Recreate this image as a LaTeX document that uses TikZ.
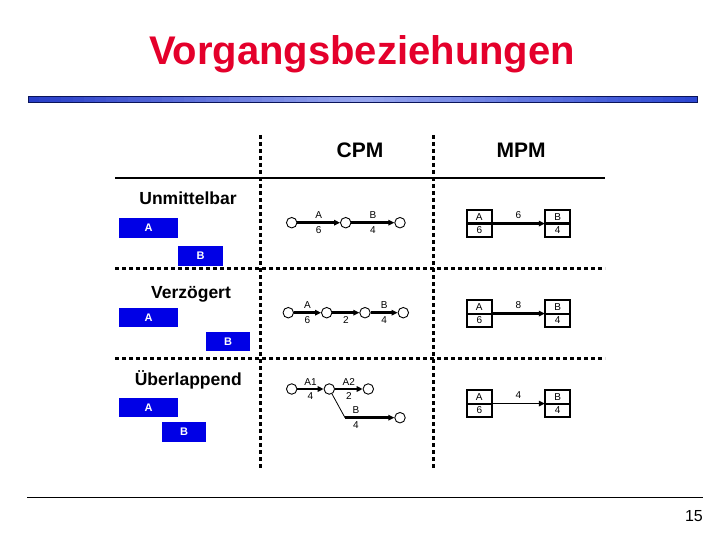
\documentclass[tikz,border=0pt]{standalone}
\usepackage{fontspec}
\setmainfont{Liberation Sans}
\usetikzlibrary{arrows.meta}
\definecolor{titlered}{RGB}{228,0,43}
\definecolor{boxblue}{RGB}{0,0,230}
\definecolor{barleft}{RGB}{40,62,200}
\definecolor{barmid}{RGB}{150,165,238}
\definecolor{barright}{RGB}{45,72,210}
\definecolor{barnavy}{RGB}{10,20,90}
\begin{document}
\begin{tikzpicture}[x=1pt,y=-1pt,
  dots/.style={line width=3pt, dash pattern=on 4pt off 3pt},
  bluebox/.style={fill=boxblue, text=white, font=\bfseries\fontsize{11}{11}\selectfont, minimum height=19.5pt, inner sep=0pt},
  rowlabel/.style={font=\bfseries\fontsize{17.5}{17.5}\selectfont, anchor=base},
  head/.style={font=\bfseries\fontsize{21}{21}\selectfont},
  ev/.style={circle, draw, line width=0.9pt, minimum size=10.5pt, inner sep=0pt},
  act/.style={-{Triangle[length=6pt,width=5.5pt]}, line width=2.6pt},
  thinact/.style={-{Triangle[length=6pt,width=5.5pt]}, line width=1.3pt},
  lbl/.style={font=\fontsize{10}{10}\selectfont, inner sep=0pt},
  mcell/.style={draw, line width=2.1pt, minimum width=25.5pt, minimum height=13.3pt, inner sep=0pt, outer sep=0pt, font=\fontsize{10}{10}\selectfont}
]
\useasboundingbox (0,0) rectangle (720,540);

% title
\node[font=\bfseries\fontsize{40}{40}\selectfont, text=titlered] (title) at (362,54) {Vorgangsbeziehungen};

% blue bar (stepped gradient)
\foreach \i in {0,...,29} {
  \pgfmathsetmacro{\pa}{100-\i*100/29}
  \pgfmathsetmacro{\xa}{28+\i*(669/60)}
  \pgfmathsetmacro{\xb}{28+(\i+1)*(669/60)+0.5}
  \fill[barmid!\pa!barleft!100!barmid, fill=barleft!\pa!barmid] (\xa,96) rectangle (\xb,102);
}
\foreach \i in {0,...,29} {
  \pgfmathsetmacro{\pa}{100-\i*100/29}
  \pgfmathsetmacro{\xa}{362.5+\i*(669/60)-0.5}
  \pgfmathsetmacro{\xb}{362.5+(\i+1)*(669/60)}
  \fill[fill=barmid!\pa!barright] (\xa,96) rectangle (\xb,102);
}
\draw[barnavy, line width=0.7pt] (28,96) rectangle (697,102);

% headers
\node[head] (cpm) at (360,150) {CPM};
\node[head] (mpm) at (521,150) {MPM};
\draw[line width=2.6pt] (115,178) -- (605,178);

% dotted grid
\draw[dots] (260.5,135) -- (260.5,470);
\draw[dots] (433,135) -- (433,470);
\draw[dots] (115,268.5) -- (605,268.5);
\draw[dots] (115,358.5) -- (605,358.5);

% left column
\node[rowlabel] (l1) at (188,205) {Unmittelbar};
\node[bluebox, minimum width=59pt] (a1) at (148.5,227.75) {A};
\node[bluebox, minimum width=45pt] (b1) at (200.5,255.75) {B};

\node[rowlabel] (l2) at (191,298) {Verzögert};
\node[bluebox, minimum width=59pt] (a2) at (148.5,317.5) {A};
\node[bluebox, minimum width=44pt] (b2) at (228,341.5) {B};

\node[rowlabel] (l3) at (188.3,385) {Überlappend};
\node[bluebox, minimum width=59pt] (a3) at (148.5,407.5) {A};
\node[bluebox, minimum width=44pt] (b3) at (184,432) {B};

% CPM row 1
\node[ev] (c11) at (291.7,222.7) {};
\node[ev] (c12) at (345.7,222.7) {};
\node[ev] (c13) at (400,222.7) {};
\draw[act] (c11) -- node[lbl, above=2.5pt] {A} node[lbl, below=2.5pt] {6} (c12);
\draw[act] (c12) -- node[lbl, above=2.5pt] {B} node[lbl, below=2.5pt] {4} (c13);

% CPM row 2
\node[ev] (c21) at (288.3,312.7) {};
\node[ev] (c22) at (326.7,312.7) {};
\node[ev] (c23) at (365,312.7) {};
\node[ev] (c24) at (403.3,312.7) {};
\draw[act] (c21) -- node[lbl, above=2.5pt] {A} node[lbl, below=2.5pt] {6} (c22);
\draw[act] (c22) -- node[lbl, below=2.5pt] {2} (c23);
\draw[act] (c23) -- node[lbl, above=2.5pt] {B} node[lbl, below=2.5pt] {4} (c24);

% CPM row 3
\node[ev] (c31) at (291.7,389) {};
\node[ev] (c32) at (329.3,389) {};
\node[ev] (c33) at (368.3,389) {};
\node[ev] (c34) at (400,417.7) {};
\coordinate (k3) at (345,417.7);
\draw[act] (c31) -- node[lbl, above=2.5pt] {A1} node[lbl, below=2.5pt] {4} (c32);
\draw[act] (c32) -- node[lbl, above=2.5pt] {A2} node[lbl, below=2.5pt] {2} (c33);
\draw[line width=0.8pt] (c32) -- (k3);
\draw[act] (k3) -- node[lbl, pos=0.22, above=2.5pt] {B} node[lbl, pos=0.22, below=2.5pt] {4} (c34);

% MPM row 1
\node[mcell] (ma1t) at (479.3,216.9) {A};
\node[mcell, anchor=north] (ma1b) at (ma1t.south) {6};
\node[mcell] (mb1t) at (557.6,216.9) {B};
\node[mcell, anchor=north] (mb1b) at (mb1t.south) {4};
\draw[act] (ma1t.south east) -- node[lbl, above=4pt] {6} (mb1t.south west);

% MPM row 2
\node[mcell] (ma2t) at (479.3,306.9) {A};
\node[mcell, anchor=north] (ma2b) at (ma2t.south) {6};
\node[mcell] (mb2t) at (557.6,306.9) {B};
\node[mcell, anchor=north] (mb2b) at (mb2t.south) {4};
\draw[act] (ma2t.south east) -- node[lbl, above=4pt] {8} (mb2t.south west);

% MPM row 3
\node[mcell] (ma3t) at (479.3,396.9) {A};
\node[mcell, anchor=north] (ma3b) at (ma3t.south) {6};
\node[mcell] (mb3t) at (557.6,396.9) {B};
\node[mcell, anchor=north] (mb3b) at (mb3t.south) {4};
\draw[thinact] (ma3t.south east) -- node[lbl, above=4pt] {4} (mb3t.south west);

% footer
\draw[line width=1.2pt] (27,497.5) -- (703,497.5);
\node[font=\fontsize{16}{16}\selectfont, anchor=east, inner sep=0pt] (pg) at (703,516) {15};
\end{tikzpicture}
\end{document}
